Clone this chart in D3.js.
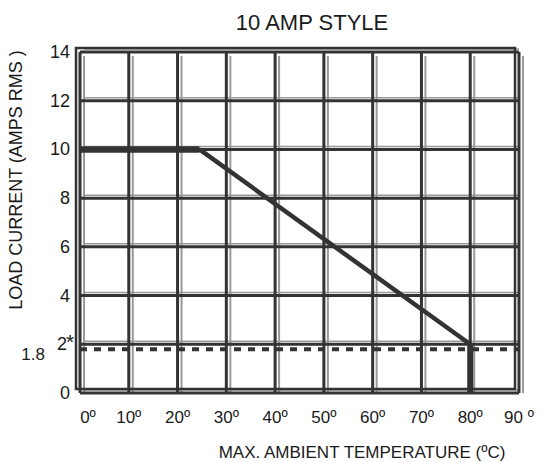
<!DOCTYPE html>
<html>
<head>
<meta charset="utf-8">
<script src="https://cdn.jsdelivr.net/npm/d3@7"></script>
<style>
  body { margin: 0; background: #fff; }
  text { font-family: "Liberation Sans", Arial, sans-serif; fill: #1a1a1a; }
</style>
</head>
<body>
<div id="chart"></div>
<script>
// derating curve, 10 amp style
var xTicks = [0, 10, 20, 30, 40, 50, 60, 70, 80, 90];
var xTickLabels = ["0º", "10º", "20º", "30º", "40º", "50º", "60º", "70º", "80º", "90 º"];
var yTicks = [0, 2, 4, 6, 8, 10, 12, 14];
var yTickLabels = ["0", "2", "4", "6", "8", "10", "12", "14"];
var curveTemp = [0, 24.5, 80, 80];
var curveAmps = [10, 10, 2, 0];
var minCurrent = 1.8;

var width = 551, height = 462;
var dark = "#333", shade = "#999";

var svg = d3.select("#chart").append("svg")
    .attr("width", width)
    .attr("height", height);

var x = d3.scaleLinear().domain([0, 90]).range([80, 519]);
var y = d3.scaleLinear().domain([0, 14]).range([393, 52]);

var grid = svg.append("g");

// gray shadow lines first
grid.selectAll(".vs").data(xTicks).enter().append("line")
    .attr("x1", d => x(d) + 4).attr("x2", d => x(d) + 4)
    .attr("y1", y(14) + 4).attr("y2", y(0))
    .attr("stroke", shade).attr("stroke-width", 2);
grid.selectAll(".hs").data(yTicks).enter().append("line")
    .attr("x1", x(0) + 4).attr("x2", x(90))
    .attr("y1", d => y(d) - 3).attr("y2", d => y(d) - 3)
    .attr("stroke", shade).attr("stroke-width", 1.5);

// outer frame, slightly offset
grid.append("rect")
    .attr("x", x(0) - 4).attr("y", y(14) - 4)
    .attr("width", x(90) - x(0)).attr("height", y(0) - y(14))
    .attr("fill", "none").attr("stroke", dark).attr("stroke-width", 2.5);

grid.selectAll(".v").data(xTicks).enter().append("line")
    .attr("x1", d => x(d)).attr("x2", d => x(d))
    .attr("y1", y(14)).attr("y2", y(0))
    .attr("stroke", dark).attr("stroke-width", 3);
grid.selectAll(".h").data(yTicks).enter().append("line")
    .attr("x1", x(0)).attr("x2", x(90))
    .attr("y1", d => y(d)).attr("y2", d => y(d))
    .attr("stroke", dark).attr("stroke-width", 3);

// 1.8 A minimum line
svg.append("line")
    .attr("x1", x(0)).attr("x2", x(90))
    .attr("y1", y(minCurrent)).attr("y2", y(minCurrent))
    .attr("stroke", dark).attr("stroke-width", 4)
    .attr("stroke-dasharray", "7,7");

// curve
var pts = curveTemp.map((t, i) => [x(t), y(curveAmps[i])]);
svg.append("line")
    .attr("x1", pts[0][0]).attr("y1", pts[0][1])
    .attr("x2", pts[1][0]).attr("y2", pts[1][1])
    .attr("stroke", dark).attr("stroke-width", 6.5);
svg.append("path")
    .attr("d", d3.line()([pts[1], pts[2]]))
    .attr("stroke", dark).attr("stroke-width", 4.5).attr("fill", "none");
svg.append("line")
    .attr("x1", pts[2][0]).attr("y1", pts[2][1])
    .attr("x2", pts[3][0]).attr("y2", pts[3][1])
    .attr("stroke", dark).attr("stroke-width", 6);

// tick labels
svg.selectAll(".xl").data(xTicks).enter().append("text")
    .attr("x", (d, i) => x(d) + (i === 0 ? 8 : 0))
    .attr("y", 423)
    .attr("text-anchor", "middle")
    .attr("font-size", 17)
    .text((d, i) => xTickLabels[i]);

svg.selectAll(".yl").data(yTicks).enter().append("text")
    .attr("x", d => d === 2 ? 67 : 70)
    .attr("y", d => y(d) + 6)
    .attr("text-anchor", "end")
    .attr("font-size", 18)
    .text((d, i) => yTickLabels[i]);

svg.append("text")
    .attr("x", 66).attr("y", y(2) + 5)
    .attr("font-size", 21)
    .text("*");

svg.append("text")
    .attr("x", 45).attr("y", y(minCurrent) + 11)
    .attr("text-anchor", "end")
    .attr("font-size", 17)
    .text("1.8");

// titles
svg.append("text")
    .attr("x", 312).attr("y", 30)
    .attr("text-anchor", "middle")
    .attr("font-size", 22)
    .text("10 AMP STYLE");

svg.append("text")
    .attr("x", 362).attr("y", 458)
    .attr("text-anchor", "middle")
    .attr("font-size", 17)
    .text("MAX. AMBIENT TEMPERATURE (ºC)");

svg.append("text")
    .attr("transform", "translate(22,180)rotate(-90)")
    .attr("text-anchor", "middle")
    .attr("font-size", 18)
    .text("LOAD CURRENT (AMPS RMS )");
</script>
</body>
</html>
